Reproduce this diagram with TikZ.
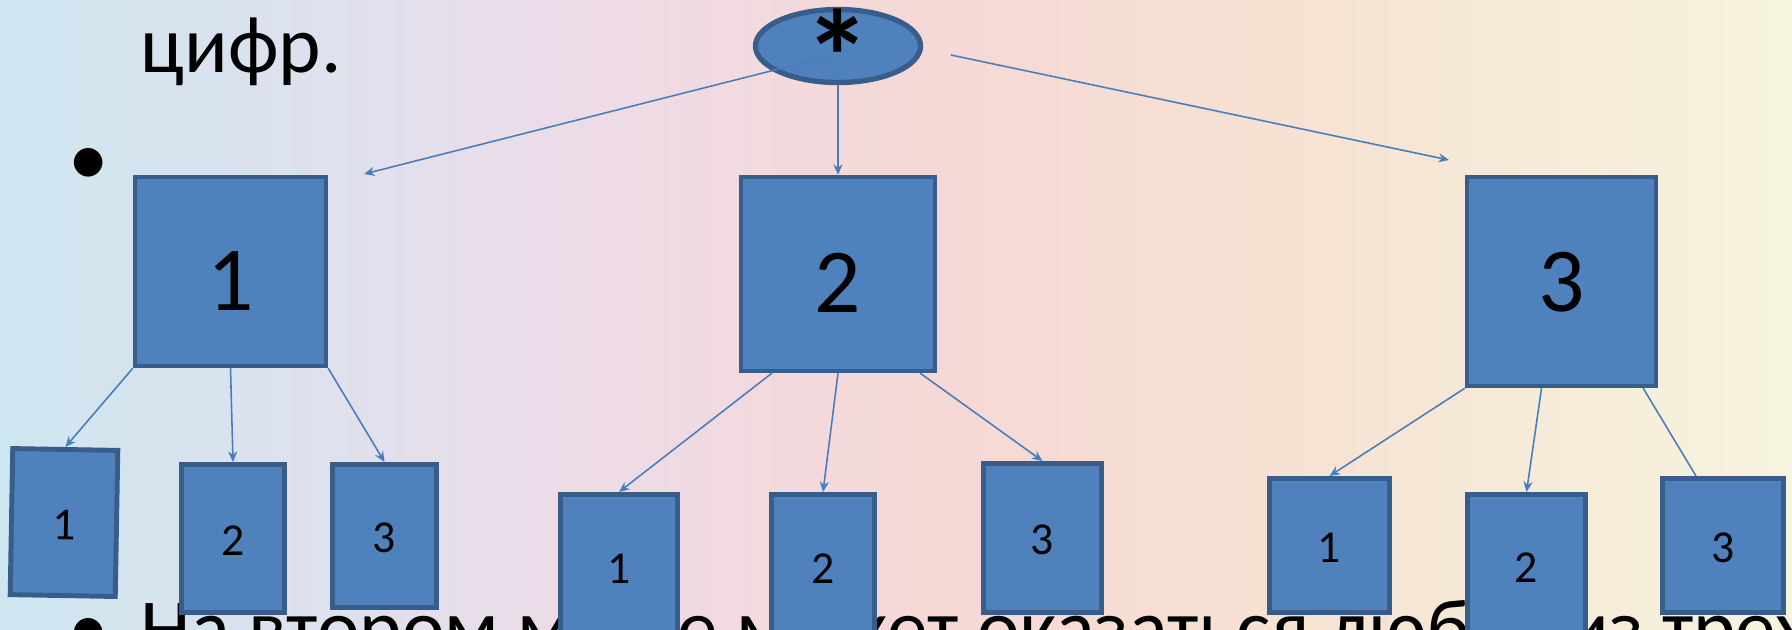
\documentclass[tikz,border=0pt]{standalone}
\usepackage{fontspec}
\setmainfont{Carlito}
\usepackage{tikz}
\usetikzlibrary{calc,shapes.geometric,arrows.meta}
\definecolor{boxfill}{RGB}{79,129,189}
\definecolor{boxline}{RGB}{56,93,138}
\definecolor{linkcol}{RGB}{74,126,187}
\definecolor{bgA}{RGB}{206,230,240}
\definecolor{bgB}{RGB}{222,225,238}
\definecolor{bgC}{RGB}{238,219,230}
\definecolor{bgD}{RGB}{246,216,214}
\definecolor{bgE}{RGB}{246,226,210}
\definecolor{bgF}{RGB}{246,244,222}
\pgfdeclarehorizontalshading{slidebg}{100bp}{color(0bp)=(bgA); color(25bp)=(bgA); color(34bp)=(bgB); color(42bp)=(bgC); color(51bp)=(bgD); color(61bp)=(bgE); color(75bp)=(bgF); color(100bp)=(bgF)}
\tikzset{
  bigbox/.style={draw=boxline,fill=boxfill,line width=1.2pt,inner sep=0pt,
    font=\fontsize{26}{30}\selectfont,text height=22pt,text depth=0pt},
  smallbox/.style={draw=boxline,fill=boxfill,line width=1.4pt,inner sep=0pt,
    font=\fontsize{13}{16}\selectfont,text height=9.6pt,text depth=0pt},
  slidetext/.style={inner sep=0pt,font=\fontsize{23}{28}\selectfont},
  link/.style={draw=linkcol,line width=0.45pt,-{Stealth[length=3pt,width=2.6pt]}}
}

\begin{document}
\begin{tikzpicture}[x=0.01cm,y=-0.01cm]
\useasboundingbox (0,0) rectangle (1792,629);
\shade[shading=slidebg] (0,0) rectangle (1792,629); %背景
% 文字
\node[slidetext,anchor=base west] (txttop) at (140,72) {цифр.};
\node[slidetext,anchor=base] (dottop) at (89,185) {•};
\node[slidetext,anchor=base west] (txtbot) at (140,655) {На втором месте может оказаться любая из трех};
\node[slidetext,anchor=base] (dotbot) at (89,655) {•};
% 根
\node[ellipse,draw=boxline,fill=boxfill,line width=1.5pt,inner sep=0pt,
  minimum width=1.65cm,minimum height=0.73cm] (root) at (838,46) {};
\node[inner sep=0pt,anchor=base,font=\fontsize{38}{42}\selectfont\bfseries] (star) at (838,104) {*};
% 第一层
\node[bigbox,minimum width=1.91cm,minimum height=1.89cm] (b1) at (230.5,271.5) {1};
\node[bigbox,minimum width=1.94cm,minimum height=1.94cm] (b2) at (838,274) {2};
\node[bigbox,minimum width=1.89cm,minimum height=2.09cm,text height=17pt] (b3) at (1561.5,281.5) {3};
% 第二层
\node[smallbox,minimum width=1.05cm,minimum height=1.46cm,rotate=-1] (l1) at (64,522.5) {1};
\node[smallbox,minimum width=1.03cm,minimum height=1.48cm] (l2) at (233,538.5) {2};
\node[smallbox,minimum width=1.04cm,minimum height=1.43cm] (l3) at (384.5,536) {3};
\node[smallbox,minimum width=1.17cm,minimum height=1.45cm] (m1) at (619,567) {1};
\node[smallbox,minimum width=1.03cm,minimum height=1.45cm] (m2) at (823,567) {2};
\node[smallbox,minimum width=1.18cm,minimum height=1.49cm] (m3) at (1042.5,538) {3};
\node[smallbox,minimum width=1.20cm,minimum height=1.34cm] (r1) at (1329.5,545.5) {1};
\node[smallbox,minimum width=1.18cm,minimum height=1.43cm] (r2) at (1526.5,566) {2};
\node[smallbox,minimum width=1.21cm,minimum height=1.34cm] (r3) at (1723,545.5) {3};
% 箭头
\coordinate (rootL) at (830,56);
\coordinate (tipL) at (364,174);
\coordinate (rootR) at (951,55);
\coordinate (tipR) at (1449,160);
\draw[link] (rootL) -- (tipL);
\draw[link] (root.south) -- (b2.north);
\draw[link] (rootR) -- (tipR);
\draw[link] (b1.south west) -- (l1.north);
\draw[link] (b1.south) -- (l2.north);
\draw[link] (b1.south east) -- (l3.north);
\draw[link] ($(b2.south west)+(33,0)$) -- (m1.north);
\draw[link] (b2.south) -- (m2.north);
\draw[link] ($(b2.south east)+(-17,0)$) -- (m3.north);
\draw[link] (b3.south west) -- (r1.north);
\draw[link] ($(b3.south)+(-20,0)$) -- (r2.north);
\draw[link,-] ($(b3.south east)+(-15,0)$) -- ($(r3.north)+(-27,0)$);
\end{tikzpicture}
\end{document}
